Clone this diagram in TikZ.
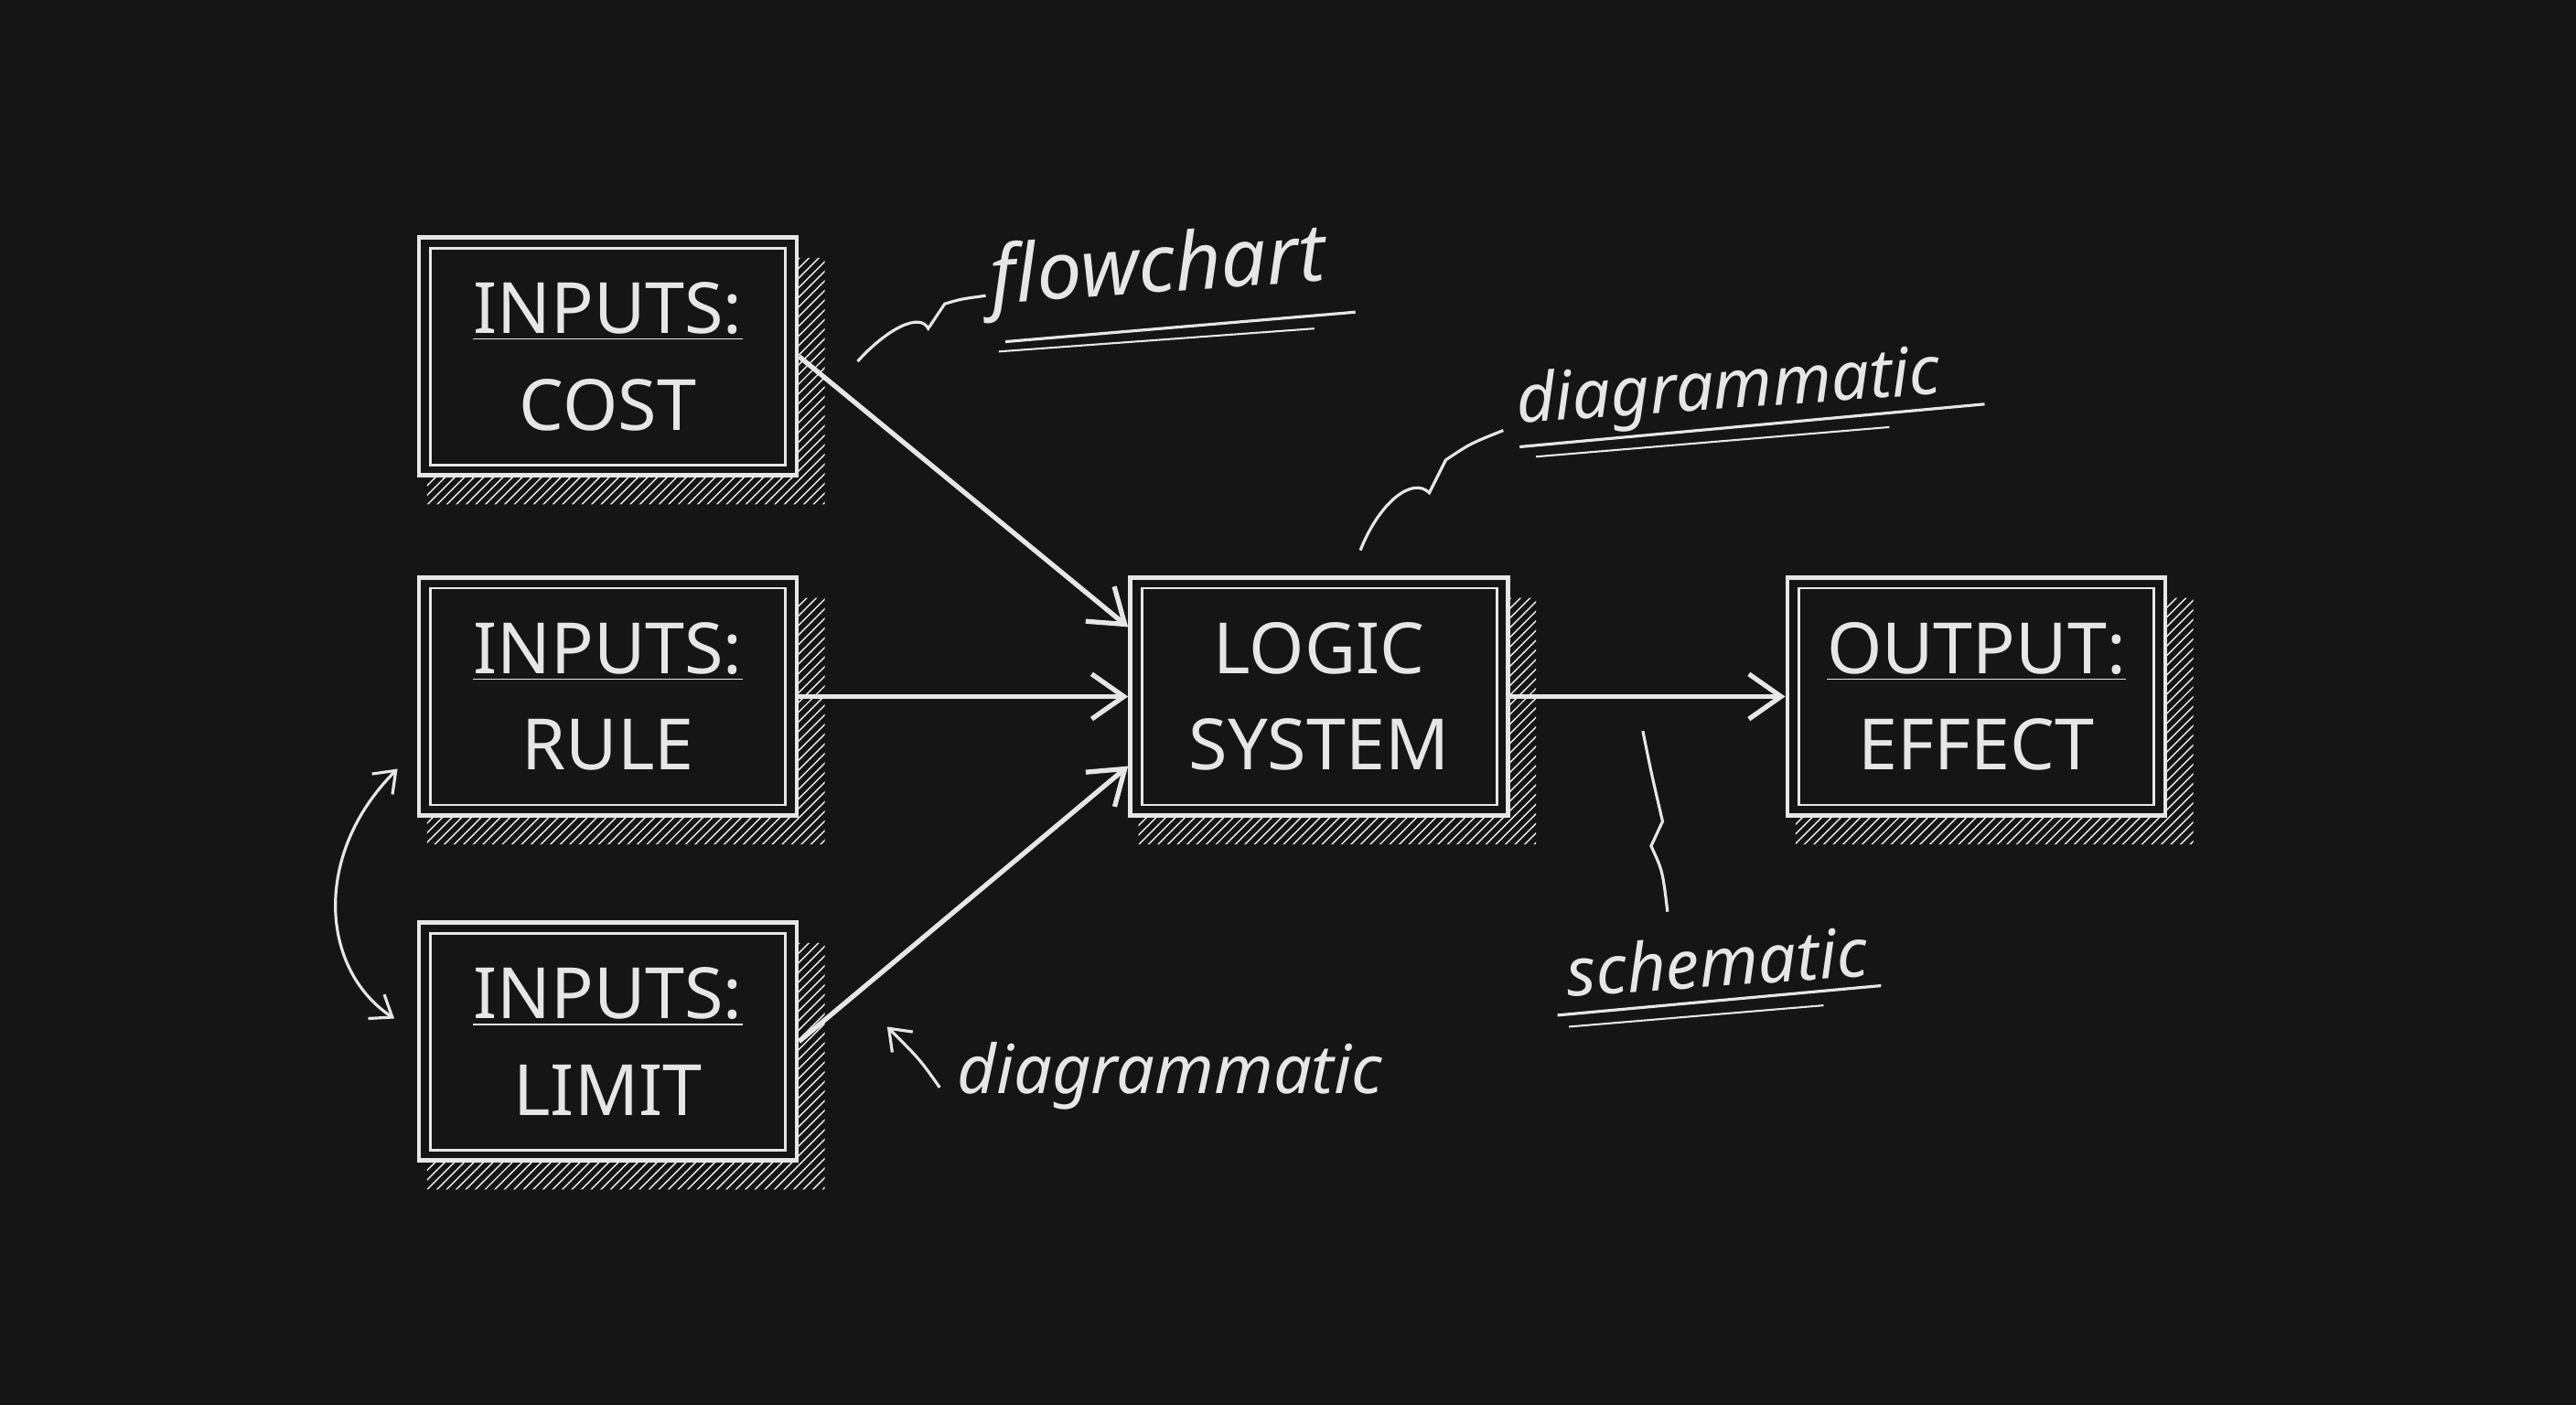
\documentclass[tikz,border=0pt]{standalone}
\usepackage{fontspec}
\setmainfont{Noto Sans}
\usetikzlibrary{patterns,arrows.meta,decorations.pathmorphing}
\definecolor{bg}{HTML}{151515}
\definecolor{chalk}{HTML}{E6E6E6}
\begin{document}
\begin{tikzpicture}[x=0.01796cm,y=-0.01796cm,
  box/.style={draw=chalk,line width=1.4pt,minimum width=4.13cm,minimum height=2.6cm,inner sep=0pt},
  inner/.style={draw=chalk,line width=0.8pt},
  btxt/.style={text=chalk,font=\fontsize{22}{30}\selectfont,align=center},
  lab/.style={text=chalk,font=\itshape\fontsize{21}{26}\selectfont},
  con/.style={draw=chalk,line width=1.5pt,-{Straight Barb[length=10pt,width=14pt]}},
  squig/.style={draw=chalk,line width=0.9pt}]
\fill[bg] (0,0) rectangle (1568,855);
\useasboundingbox (0,0) rectangle (1568,855);
\foreach \n/\x/\y/\t in {cost/370/217/{\underline{INPUTS:}\\COST},rule/370/424/{\underline{INPUTS:}\\RULE},limit/370/634/{\underline{INPUTS:}\\LIMIT},logic/803/424/{LOGIC\\SYSTEM},out/1203/424/{\underline{OUTPUT:}\\EFFECT}}{
  \fill[pattern=north east lines,pattern color=chalk!70] (\x+115,\y-60) -- (\x+132,\y-60) -- (\x+132,\y+90) -- (\x-110,\y+90) -- (\x-110,\y+73) -- (\x+115,\y+73) -- cycle;
  \node[box,fill=bg] (\n) at (\x,\y) {};
  \draw[inner] (\x-108,\y-66) rectangle (\x+108,\y+66);
  \node[btxt] at (\x,\y) {\t};
}
\draw[con] (cost.east) -- (logic.160);
\draw[con] (rule.east) -- (logic.west);
\draw[con] (limit.east) -- (logic.200);
\draw[con] (logic.east) -- (out.west);
% labels
\node[lab,rotate=4,font=\itshape\fontsize{25}{30}\selectfont] (l1) at (705,165) {flowchart};
\draw[chalk,line width=0.9pt] (612,208) -- (825,190);
\draw[chalk,line width=0.6pt] (608,214) -- (800,200);
\draw[squig] (522,220) .. controls (540,200) and (560,190) .. (565,200) -- (575,185) .. controls (585,182) .. (600,180);
\node[lab,rotate=4] (l2) at (1052,238) {diagrammatic};
\draw[chalk,line width=0.9pt] (925,272) -- (1208,246);
\draw[chalk,line width=0.6pt] (935,278) -- (1150,260);
\draw[squig] (828,335) .. controls (840,305) and (860,290) .. (870,300) -- (880,280) .. controls (895,270) .. (915,262);
\node[lab,rotate=4] (l3) at (1045,585) {schematic};
\draw[chalk,line width=0.9pt] (948,618) -- (1145,600);
\draw[chalk,line width=0.6pt] (955,625) -- (1110,612);
\draw[squig] (1015,555) .. controls (1012,530) .. (1005,515) -- (1012,500) .. controls (1005,470) .. (1000,445);
\node[lab] (l4) at (712,655) {diagrammatic};
\draw[squig,-{Straight Barb[length=6pt,width=9pt]}] (572,662) .. controls (560,645) .. (540,625);
\draw[squig,{Straight Barb[length=6pt,width=9pt]}-{Straight Barb[length=6pt,width=9pt]}] (240,620) .. controls (195,590) and (190,520) .. (242,468);
\end{tikzpicture}
\end{document}
